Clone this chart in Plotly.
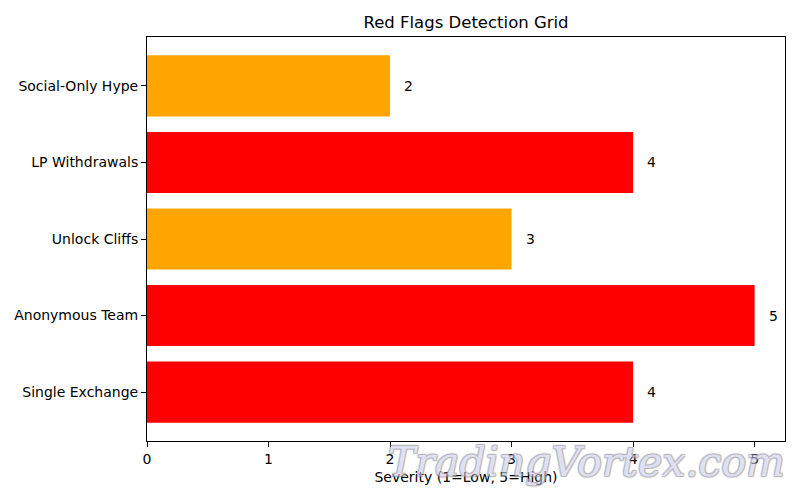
import plotly.graph_objects as go

categories = ["Single Exchange", "Anonymous Team", "Unlock Cliffs", "LP Withdrawals", "Social-Only Hype"]
severity = [4, 5, 3, 4, 2]
colors = ["red" if v >= 4 else "orange" for v in severity]
x_ticks = [0, 1, 2, 3, 4, 5]

font = "DejaVu Sans"

fig = go.Figure()
fig.add_trace(go.Bar(
    y=list(range(len(categories))), x=severity, orientation="h",
    marker=dict(color=colors, line=dict(width=0)), width=0.8,
    hoverinfo="skip",
))

for i, v in enumerate(severity):
    fig.add_annotation(x=v + 0.1, y=i, text=str(v), showarrow=False,
                       xanchor="left", yanchor="middle",
                       font=dict(family=font, size=14, color="black"))

fig.add_annotation(
    xref="paper", yref="paper", x=1.0, y=-0.052, text="<i>TradingVortex.com</i>",
    showarrow=False, xanchor="right", yanchor="middle", xshift=2, opacity=0.6,
    font=dict(family="DejaVu Serif", size=41, color="rgb(205,205,238)",
              shadow="1px 1px 1px #888, -1px -1px 1px #888, 1px -1px 1px #888, -1px 1px 1px #888"),
)

fig.update_layout(
    width=800, height=500,
    paper_bgcolor="white", plot_bgcolor="white",
    margin=dict(l=147, r=15, t=37, b=59, autoexpand=False),
    title=dict(text="Red Flags Detection Grid", x=(147 + 785) / 2 / 800, xanchor="center",
               xref="container", yref="container",
               y=1 - 22 / 500, yanchor="middle",
               font=dict(family=font, size=16.5, color="black")),
    font=dict(family=font, size=14, color="black"),
    showlegend=False,
    bargap=0.2,
)
fig.update_xaxes(
    range=[0, 5.25], tickvals=x_ticks, ticktext=[str(t) for t in x_ticks],
    showgrid=False, zeroline=False, showline=True, linecolor="black", linewidth=1,
    mirror=True, ticks="outside", ticklen=5, tickcolor="black", automargin=False,
    tickfont=dict(family=font, size=14),
    title=dict(text="Severity (1=Low, 5=High)", standoff=6, font=dict(family=font, size=14)),
)
fig.update_yaxes(
    range=[-0.64, 4.64], tickvals=list(range(len(categories))), ticktext=categories,
    showgrid=False, zeroline=False, showline=True, linecolor="black", linewidth=1,
    mirror=True, ticks="outside", ticklen=5, tickcolor="black", automargin=False,
    tickfont=dict(family=font, size=14),
)

fig.write_html("out.html", config={"displayModeBar": False},
               post_script="document.body.style.margin='0';")
